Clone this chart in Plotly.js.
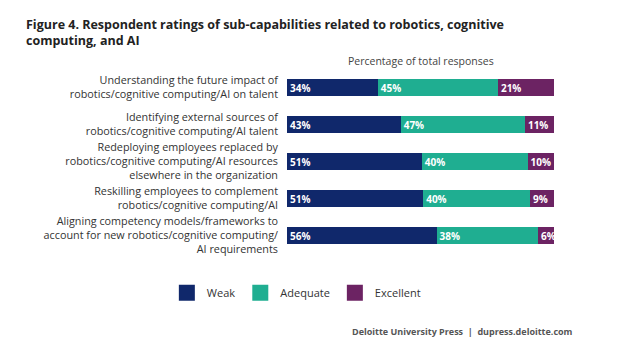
<!DOCTYPE html>
<html><head><meta charset="utf-8">
<script src="https://cdn.plot.ly/plotly-3.0.1.min.js"></script>
<style>html,body{margin:0;padding:0;background:#fff}#chart{width:640px;height:363px}</style>
</head><body><div id="chart"></div>
<script>
const categories = [
  "Understanding the future impact of<br>robotics/cognitive computing/AI on talent",
  "Identifying external sources of<br>robotics/cognitive computing/AI talent",
  "Redeploying employees replaced by<br>robotics/cognitive computing/AI resources<br>elsewhere in the organization",
  "Reskilling employees to complement<br>robotics/cognitive computing/AI",
  "Aligning competency models/frameworks to<br>account for new robotics/cognitive computing/<br>AI requirements"
];
const weak = [34, 43, 51, 51, 56];
const adequate = [45, 47, 40, 40, 38];
const excellent = [21, 11, 10, 9, 6];
const seriesNames = ["Weak", "Adequate", "Excellent"];
const colors = ["#10286b", "#1fae91", "#6c2363"];

const seriesVals = [weak, adequate, excellent];
const font = "Open Sans, sans-serif";
const traces = seriesVals.map((vals, i) => ({
  type: "bar", orientation: "h",
  y: categories, x: vals, name: seriesNames[i],
  marker: {color: colors[i]},
  text: vals.map(v => "<b>" + v + "%</b>"),
  textposition: "inside", insidetextanchor: "start", textangle: 0, constraintext: "none",
  textfont: {color: "#ffffff", size: 10, family: font},
  showlegend: false, hoverinfo: "skip"
}));
seriesNames.forEach((n, i) => traces.push({
  type: "scatter", mode: "markers", x: [null], y: [null], name: n,
  marker: {symbol: "square", size: 17, color: colors[i]}, hoverinfo: "skip"
}));

const layout = {
  width: 640, height: 363,
  margin: {l: 287, r: 86, t: 69, b: 109},
  paper_bgcolor: "#fff", plot_bgcolor: "#fff",
  font: {family: font, color: "#333"},
  barmode: "stack", barnorm: "percent", bargap: 0.54,
  title: {
    text: "<b>Figure 4. Respondent ratings of sub-capabilities related to robotics, cognitive<br>computing, and AI</b>",
    x: 26/640, xref: "container", xanchor: "left",
    y: 1 - 29/363, yref: "container", yanchor: "top",
    font: {size: 12.5, color: "#222", family: font}
  },
  xaxis: {range: [0, 100], showgrid: false, zeroline: false, showticklabels: false, fixedrange: true},
  yaxis: {
    autorange: "reversed", showgrid: false, zeroline: false,
    tickfont: {size: 10.8, color: "#333", family: font},
    ticks: "", ticklabelstandoff: 8
  },
  legend: {
    orientation: "h", traceorder: "normal", x: -0.45, xanchor: "left", y: -0.21, yanchor: "middle",
    font: {size: 11, color: "#333", family: font}, itemsizing: "trace"
  },
  annotations: [
    {text: "Percentage of total responses", xref: "paper", yref: "paper",
     x: 0.5, y: 1, yanchor: "bottom", yshift: -1, showarrow: false,
     font: {size: 10.5, color: "#444", family: font}},
    {text: "<b>Deloitte University Press  |  dupress.deloitte.com</b>", xref: "paper", yref: "paper",
     x: (575 - 287) / 267, y: (254 - 331) / 185, xanchor: "right", yanchor: "middle",
     showarrow: false, font: {size: 9, color: "#555", family: font}}
  ]
};
Plotly.newPlot("chart", traces, layout, {displayModeBar: false, staticPlot: true});
</script></body></html>
